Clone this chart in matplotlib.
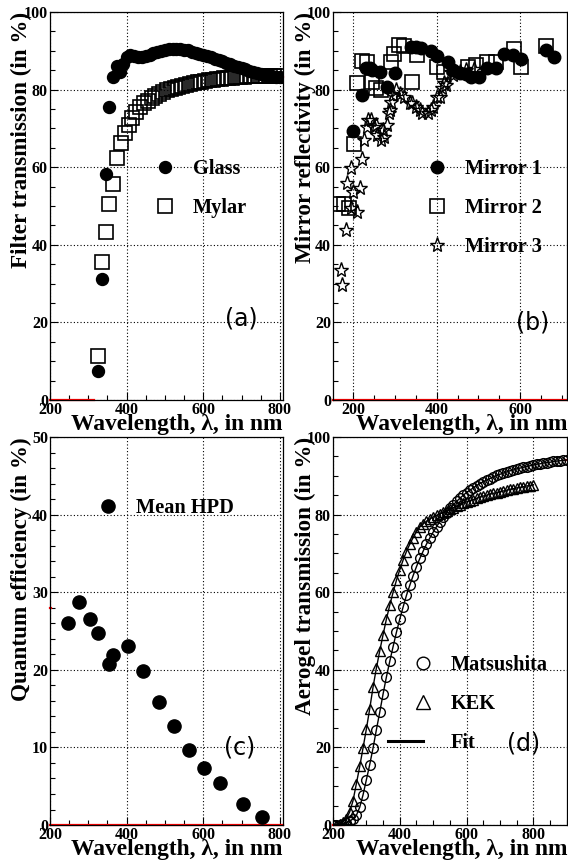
import matplotlib
matplotlib.use('Agg')
import matplotlib.pyplot as plt
from matplotlib.lines import Line2D
from matplotlib.legend_handler import HandlerLine2D
from matplotlib.ticker import MultipleLocator

plt.rcParams['font.family'] = ['Liberation Serif', 'DejaVu Serif']
plt.rcParams['font.weight'] = 'bold'

# (a) filter transmission
glass_x = [324, 335, 345, 355, 365, 374, 382, 390, 400, 410, 420, 430, 440, 450, 460, 470,
           480, 490, 500, 510, 520, 530, 540, 550, 560, 570, 580, 590, 600, 610, 620, 630,
           640, 650, 660, 670, 680, 690, 700, 710, 720, 730, 740, 750, 760, 770, 780, 790, 800]
glass_y = [7.5, 31.2, 58.2, 75.5, 83.3, 86.0, 84.6, 86.5, 88.3, 89.0, 88.8, 88.5, 88.4, 88.6,
           89.0, 89.4, 89.7, 90.0, 90.2, 90.4, 90.5, 90.5, 90.5, 90.3, 90.1, 89.8, 89.5, 89.2,
           88.9, 88.6, 88.3, 88.0, 87.6, 87.3, 86.9, 86.6, 86.2, 85.9, 85.5, 85.2, 84.9, 84.6,
           84.3, 84.0, 83.8, 83.6, 83.4, 83.3, 83.2]
mylar_x = [325, 335, 345, 355, 365, 375, 385, 395, 405, 415, 425, 435, 445, 455, 465, 475,
           485, 495, 505, 515, 525, 535, 545, 555, 565, 575, 585, 595, 605, 615, 625, 635,
           645, 655, 665, 675, 685, 695, 705, 715, 725, 735, 745, 755, 765, 775, 785, 795]
mylar_y = [11.4, 35.6, 43.2, 50.5, 55.6, 62.5, 66.3, 68.9, 71.0, 72.8, 74.3, 75.5, 76.5, 77.2,
           77.8, 78.4, 78.9, 79.4, 79.8, 80.1, 80.4, 80.7, 80.9, 81.2, 81.4, 81.7, 81.9, 82.1,
           82.2, 82.4, 82.5, 82.7, 82.8, 82.9, 83.0, 83.1, 83.2, 83.3, 83.3, 83.4, 83.4, 83.5,
           83.5, 83.5, 83.5, 83.5, 83.5, 83.5]

# (b) mirror reflectivity
m1_x = [201, 222, 230, 240, 246, 264, 282, 300, 338, 350, 362, 386, 402, 426, 440, 456,
        470, 482, 502, 521, 542, 562, 582, 602, 661, 681]
m1_y = [69.3, 78.6, 85.5, 85.7, 85.0, 84.6, 80.6, 84.3, 91.0, 91.0, 90.8, 90.0, 88.8, 87.1,
        85.0, 84.2, 84.0, 83.3, 83.3, 85.5, 85.5, 89.3, 88.9, 88.0, 90.2, 88.3]
m2_x = [165, 178, 190, 202, 209, 222, 234, 246, 254, 266, 290, 298, 310, 322, 342, 354,
        402, 418, 474, 494, 521, 542, 585, 602, 661]
m2_y = [50.6, 50.4, 49.5, 66.0, 81.8, 87.4, 87.0, 82.0, 80.5, 80.0, 87.0, 89.2, 91.5, 91.3,
        82.0, 88.9, 85.8, 84.5, 85.9, 86.3, 87.2, 87.0, 90.4, 85.9, 91.2]
m3_x = [170, 174, 183, 185, 195, 195, 201, 209, 217, 222, 226, 234, 236, 242, 250, 256, 258,
        266, 272, 274, 282, 286, 288, 290, 296, 302, 312, 322, 336, 342, 350, 360, 366, 380,
        386, 392, 400, 408, 412, 418, 423, 434, 440, 456, 470, 490]
m3_y = [33.5, 29.6, 43.8, 56.0, 59.9, 49.4, 53.7, 48.5, 54.6, 62.0, 67.0, 70.4, 72.2, 72.2,
        70.5, 70.9, 68.3, 67.0, 69.6, 67.9, 70.9, 73.9, 74.7, 76.9, 78.5, 79.9, 79.0, 78.2,
        76.5, 76.5, 75.5, 74.8, 74.0, 74.0, 74.8, 75.6, 78.0, 78.2, 80.3, 81.6, 81.2, 84.6,
        83.8, 84.6, 85.0, 85.2]

# (c) quantum efficiency
qe_x = [246, 275, 304, 326, 355, 365, 404, 443, 484, 523, 563, 602, 643, 704, 754]
qe_y = [26.1, 28.8, 26.5, 24.8, 20.7, 21.9, 23.1, 19.8, 15.8, 12.7, 9.7, 7.3, 5.4, 2.7, 1.1]

# (d) aerogel transmission
mat_x = list(range(200, 901, 10))
mat_y = [0.0, 0.05, 0.1, 0.3, 0.6, 1.0, 1.6, 2.5, 4.6, 7.8, 11.7, 15.6, 19.9, 24.6, 29.1,
         33.8, 38.2, 42.2, 46.0, 49.7, 53.1, 56.2, 59.2, 61.8, 64.3, 66.6, 68.7, 70.6, 72.4,
         74.0, 75.5, 76.9, 78.2, 79.4, 80.5, 81.6, 82.5, 83.4, 84.2, 85.0, 85.7, 86.3, 86.9,
         87.5, 88.0, 88.5, 88.9, 89.3, 89.7, 90.1, 90.4, 90.7, 91.0, 91.3, 91.5, 91.8, 92.0,
         92.2, 92.4, 92.6, 92.8, 93.0, 93.1, 93.3, 93.4, 93.5, 93.7, 93.8, 93.9, 94.0, 94.1]
kek_x = list(range(210, 801, 10))
kek_y = [0.0, 0.3, 0.9, 1.6, 3.4, 6.3, 10.7, 15.1, 19.9, 24.8, 30.0, 35.6, 40.5, 44.9, 49.1,
         53.1, 56.7, 60.0, 63.1, 65.8, 68.3, 70.5, 72.4, 74.1, 75.6, 76.9, 77.6, 78.3, 78.9,
         79.4, 79.8, 80.2, 80.6, 81.0, 81.4, 81.8, 82.2, 82.6, 83.0, 83.3, 83.6, 83.9, 84.2,
         84.5, 84.8, 85.0, 85.3, 85.5, 85.7, 85.9, 86.1, 86.3, 86.5, 86.7, 86.9, 87.0, 87.2,
         87.4, 87.5, 87.7]

# small red fragments seen on the frames
red_a = [([200, 315], [0, 0]), ([803, 808], [83.2, 83.2])]
red_b = [([152, 712], [0, 0])]
red_c = [([200, 808], [0, 0]), ([200, 203], [28, 28])]
red_d = [([200, 232], [0, 0]), ([895, 901], [94, 94])]

XLABEL = 'Wavelength, λ, in nm'


class HalfLine(HandlerLine2D):
    # legend line only over the left half of the handle box, like ROOT
    def create_artists(self, legend, orig_handle, xdescent, ydescent, width, height, fontsize, trans):
        y = height / 2 - ydescent
        line = Line2D([-xdescent, -xdescent + width / 2], [y, y])
        self.update_prop(line, orig_handle, legend)
        line.set_transform(trans)
        return [line]


def style(ax, xlim, ylim, xminor, ymajor, yminor, ylabel, labx):
    ax.set_xlim(xlim)
    ax.set_ylim(ylim)
    ax.xaxis.set_major_locator(MultipleLocator(200))
    ax.xaxis.set_minor_locator(MultipleLocator(xminor))
    ax.yaxis.set_major_locator(MultipleLocator(ymajor))
    ax.yaxis.set_minor_locator(MultipleLocator(yminor))
    ax.tick_params(which='both', direction='in', top=False, right=False, labelsize=11.5, pad=1.5, width=0.8)
    ax.tick_params(which='major', length=6)
    ax.tick_params(which='minor', length=3.5)
    for lab in ax.get_xticklabels() + ax.get_yticklabels():
        lab.set_fontweight('bold')
    ax.grid(True, which='major', ls=(0, (1, 2)), color='black', lw=0.8)
    ax.set_axisbelow(True)
    ax.set_xlabel(XLABEL, loc='right', fontsize=16.9, fontweight='bold')
    ax.xaxis.set_label_coords(1.0, -0.035)
    ax.set_ylabel(ylabel, loc='top', fontsize=16.7, fontweight='bold')
    ax.yaxis.set_label_coords(labx, 1.0)
    for sp in ax.spines.values():
        sp.set_linewidth(0.9)


def red_bits(ax, bits):
    for xs, ys in bits:
        ax.plot(xs, ys, color='red', lw=1.6, clip_on=False, zorder=1)


def legend(ax, handles, labels, x, y, hmap=None, scale=1.0):
    ax.legend(handles, labels, loc='upper left', bbox_to_anchor=(x, y), frameon=False,
              borderpad=0, borderaxespad=0, handlelength=3.43, handletextpad=-0.34,
              labelspacing=0.93, numpoints=1, markerscale=scale, handler_map=hmap,
              prop={'size': 14.7, 'weight': 'bold'})


def panel_tag(ax, text, x, y):
    ax.text(x, y, text, fontsize=17, family='DejaVu Sans', fontweight='normal',
            ha='center', va='center')


fig = plt.figure(figsize=(5.68, 8.67), dpi=100)
ax_a = fig.add_axes([0.0880, 0.5386, 0.4102, 0.4475])
ax_b = fig.add_axes([0.5863, 0.5386, 0.4120, 0.4475])
ax_c = fig.add_axes([0.0880, 0.0484, 0.4102, 0.4475])
ax_d = fig.add_axes([0.5863, 0.0484, 0.4120, 0.4475])

# (a)
style(ax_a, (200, 808), (0, 100), 50, 20, 5, 'Filter transmission (in %)', -0.077)
red_bits(ax_a, red_a)
hg, = ax_a.plot(glass_x, glass_y, 'o', color='black', ms=8.6)
hm, = ax_a.plot(mylar_x, mylar_y, 's', mfc='none', mec='black', mew=1.2, ms=9.5)
legend(ax_a, [hg, hm], ['Glass', 'Mylar'], 0.343, 0.62)
panel_tag(ax_a, '(a)', 700, 21)

# (b)
style(ax_b, (152, 712), (0, 100), 50, 20, 5, 'Mirror reflectivity (in %)', -0.073)
red_bits(ax_b, red_b)
h1, = ax_b.plot(m1_x, m1_y, 'o', color='black', ms=9)
h2, = ax_b.plot(m2_x, m2_y, 's', mfc='none', mec='black', mew=1.2, ms=9.5)
h3, = ax_b.plot(m3_x, m3_y, '*', mfc='none', mec='black', mew=1.0, ms=11)
legend(ax_b, [h1, h2, h3], ['Mirror 1', 'Mirror 2', 'Mirror 3'], 0.295, 0.62)
panel_tag(ax_b, '(b)', 629, 20)

# (c)
style(ax_c, (200, 808), (0, 50), 50, 10, 2, 'Quantum efficiency (in %)', -0.077)
red_bits(ax_c, red_c)
hq, = ax_c.plot(qe_x, qe_y, 'o', color='black', ms=9.5)
legend(ax_c, [hq], ['Mean HPD'], 0.099, 0.842)
panel_tag(ax_c, '(c)', 695, 10)

# (d)
style(ax_d, (200, 901), (0, 100), 50, 20, 5, 'Aerogel transmission (in %)', -0.073)
red_bits(ax_d, red_d)
ax_d.plot(mat_x, mat_y, '-', color='black', lw=1.0)
ax_d.plot(kek_x, kek_y, '-', color='black', lw=1.0)
hmat, = ax_d.plot(mat_x, mat_y, 'o', mfc='none', mec='black', mew=1.0, ms=7)
hkek, = ax_d.plot(kek_x, kek_y, '^', mfc='none', mec='black', mew=1.0, ms=7.5)
hfit = Line2D([], [], color='black', lw=2.2)
legend(ax_d, [hmat, hkek, hfit], ['Matsushita', 'KEK', 'Fit'], 0.235, 0.437,
       hmap={hfit: HalfLine()}, scale=1.3)
panel_tag(ax_d, '(d)', 770, 21)

fig.savefig('out.png', dpi=100)
